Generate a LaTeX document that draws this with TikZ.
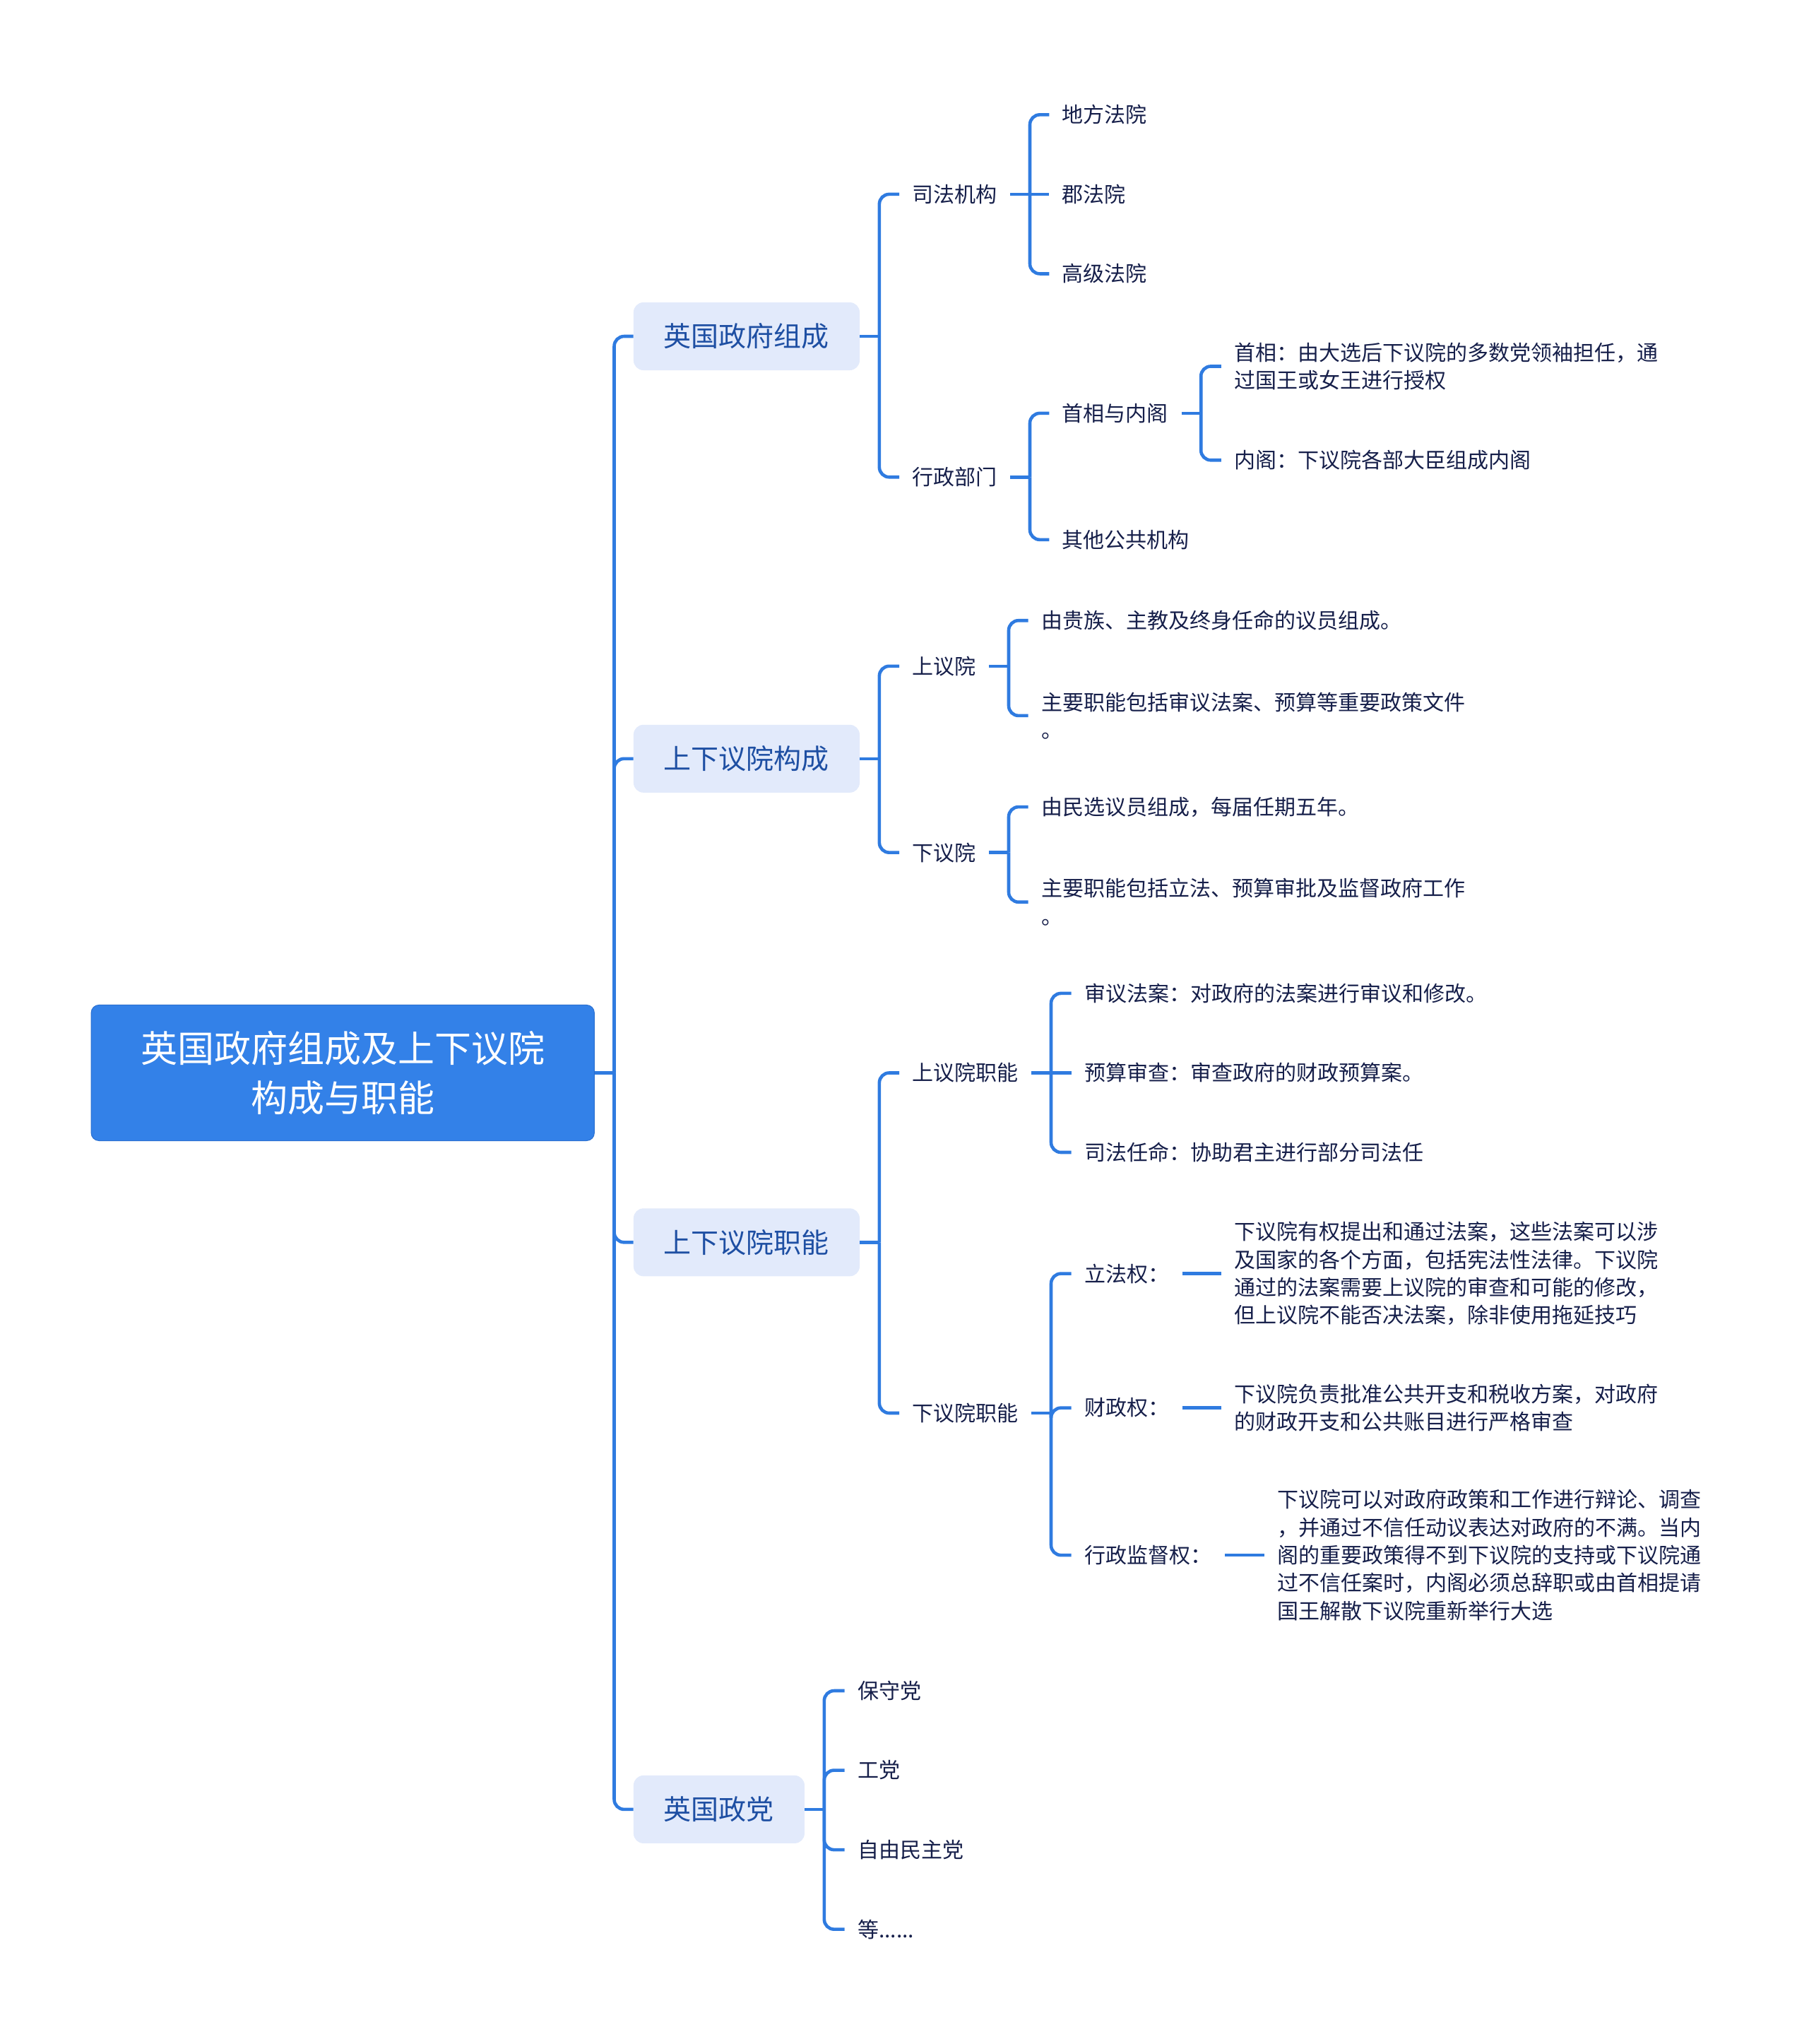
\documentclass[tikz,border=0pt]{standalone}
\usepackage{fontspec}
\setmainfont{Noto Sans CJK SC}
\usetikzlibrary{calc}
\definecolor{lineblue}{HTML}{2F7BE0}
\definecolor{rootfill}{HTML}{3381E8}
\definecolor{rootdraw}{HTML}{2A6FD0}
\definecolor{subfill}{HTML}{E2EAFB}
\definecolor{subtext}{HTML}{1E4FA3}
\definecolor{leaftext}{HTML}{161F4A}
\tikzset{
  conn/.style={draw=lineblue, line width=4.6pt, rounded corners=14pt},
  rootbox/.style={fill=rootfill, draw=rootdraw, line width=1pt, rounded corners=11pt,
    minimum width=712pt, minimum height=192pt, text=white, align=center,
    font=\fontsize{52pt}{70pt}\selectfont},
  subbox/.style={fill=subfill, rounded corners=14pt, inner xsep=43pt, minimum height=96pt,
    text=subtext, font=\fontsize{39pt}{47pt}\selectfont, anchor=west},
  leaf/.style={text=leaftext, inner xsep=18.4pt, inner ysep=4pt, anchor=west, align=left,
    font=\fontsize{30pt}{39.3pt}\selectfont}
}
\newcommand\hub[2]{\coordinate (b#1) at ($(#1.east)+(#2,0)$); \draw[conn] (#1.east) -- (b#1);}
\newcommand\branch[2]{\draw[conn] (b#1) -- (b#1 |- #2.west) -- (#2.west);}
\newcommand\straight[2]{\draw[conn] (b#1) -- (#2.west);}
\begin{document}
\begin{tikzpicture}[x=1.8444pt, y=-1.8444pt]
\useasboundingbox (0,0) rectangle (1388,1568);

% root
\node[rootbox] (root) at (263,823) {英国政府组成及上下议院\\构成与职能};

% level 1
\node[subbox] (g) at (486,258) {英国政府组成};
\node[subbox] (h) at (486,582) {上下议院构成};
\node[subbox] (f) at (486,953) {上下议院职能};
\node[subbox] (p) at (486,1388) {英国政党};

% level 2
\node[leaf] (sf) at (690,149) {司法机构};
\node[leaf] (xz) at (690,366) {行政部门};
\node[leaf] (sy) at (690,511) {上议院};
\node[leaf] (xy) at (690,654) {下议院};
\node[leaf] (syf) at (690,823) {上议院职能};
\node[leaf] (xyf) at (690,1084) {下议院职能};
\node[leaf] (p1) at (648,1297) {保守党};
\node[leaf] (p2) at (648,1358) {工党};
\node[leaf] (p3) at (648,1419) {自由民主党};
\node[leaf] (p4) at (648,1480) {等......};

% level 3
\node[leaf] (c1) at (805,88) {地方法院};
\node[leaf] (c2) at (805,149) {郡法院};
\node[leaf] (c3) at (805,210) {高级法院};
\node[leaf] (pm) at (805,317) {首相与内阁};
\node[leaf] (ot) at (805,414) {其他公共机构};
\node[leaf] (sy1) at (789,476) {由贵族、主教及终身任命的议员组成。};
\node[leaf] (sy2) at (789,549) {主要职能包括审议法案、预算等重要政策文件\\。};
\node[leaf] (xy1) at (789,619) {由民选议员组成，每届任期五年。};
\node[leaf] (xy2) at (789,692) {主要职能包括立法、预算审批及监督政府工作\\。};
\node[leaf] (sf1) at (822,762) {审议法案：对政府的法案进行审议和修改。};
\node[leaf] (sf2) at (822,823) {预算审查：审查政府的财政预算案。};
\node[leaf] (sf3) at (822,884) {司法任命：协助君主进行部分司法任};
\node[leaf] (lf) at (822,977) {立法权：};
\node[leaf] (cz) at (822,1080) {财政权：};
\node[leaf] (jd) at (822,1193) {行政监督权：};

% level 4
\node[leaf] (pm1) at (937,281) {首相：由大选后下议院的多数党领袖担任，通\\过国王或女王进行授权};
\node[leaf] (pm2) at (937,353) {内阁：下议院各部大臣组成内阁};
\node[leaf] (lfd) at (937,977) {下议院有权提出和通过法案，这些法案可以涉\\及国家的各个方面，包括宪法性法律。下议院\\通过的法案需要上议院的审查和可能的修改，\\但上议院不能否决法案，除非使用拖延技巧};
\node[leaf] (czd) at (937,1080) {下议院负责批准公共开支和税收方案，对政府\\的财政开支和公共账目进行严格审查};
\node[leaf] (jdd) at (970,1193) {下议院可以对政府政策和工作进行辩论、调查\\，并通过不信任动议表达对政府的不满。当内\\阁的重要政策得不到下议院的支持或下议院通\\过不信任案时，内阁必须总辞职或由首相提请\\国王解散下议院重新举行大选};

% connectors
\hub{root}{15}
\branch{root}{g} \branch{root}{h} \branch{root}{f} \branch{root}{p}

\hub{g}{15}
\branch{g}{sf} \branch{g}{xz}
\hub{sf}{15}
\branch{sf}{c1} \straight{sf}{c2} \branch{sf}{c3}
\hub{xz}{15}
\branch{xz}{pm} \branch{xz}{ot}
\hub{pm}{15}
\branch{pm}{pm1} \branch{pm}{pm2}

\hub{h}{15}
\branch{h}{sy} \branch{h}{xy}
\hub{sy}{15}
\branch{sy}{sy1} \branch{sy}{sy2}
\hub{xy}{15}
\branch{xy}{xy1} \branch{xy}{xy2}

\hub{f}{15}
\branch{f}{syf} \branch{f}{xyf}
\hub{syf}{15}
\branch{syf}{sf1} \straight{syf}{sf2} \branch{syf}{sf3}
\hub{xyf}{15}
\branch{xyf}{lf} \branch{xyf}{cz} \branch{xyf}{jd}
\draw[conn] (lf.east) -- (lfd.west);
\draw[conn] (cz.east) -- (czd.west);
\draw[conn] (jd.east) -- (jdd.west);

\hub{p}{15}
\branch{p}{p1} \branch{p}{p2} \branch{p}{p3} \branch{p}{p4}
\end{tikzpicture}
\end{document}
